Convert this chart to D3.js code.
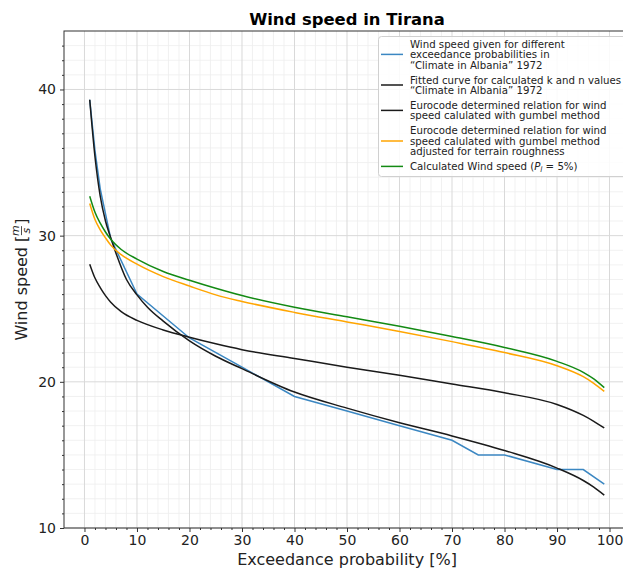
<!DOCTYPE html>
<html>
<head>
<meta charset="utf-8">
<script src="https://cdn.jsdelivr.net/npm/d3@7"></script>
<style>
  body { margin: 0; background: #fff; }
  text { font-family: "DejaVu Sans", sans-serif; }
</style>
</head>
<body>
<svg id="chart" width="623" height="568"></svg>
<script>
// values
var probsGiven = [1, 2, 3, 5, 10, 20, 30, 40, 50, 60, 70, 75, 80, 90, 95, 99];
var windGiven = [39.3, 35.8, 33.2, 29.8, 26, 23, 21, 19, 18, 17, 16, 15, 15, 14, 14, 13];

var probsFit = [1, 2, 3, 4, 5, 6, 8, 10, 12, 15, 20, 25, 30, 40, 50, 60, 70, 80, 90, 95, 97, 99];
var windFit = [39.3, 35.4, 32.7, 31.0, 29.85, 28.8, 27.0, 25.95, 25.1, 24.15, 22.8, 21.75, 20.9, 19.3, 18.2, 17.2, 16.3, 15.3, 14.1, 13.25, 12.8, 12.25];

var probsEc = [1, 2, 3, 4, 5, 7, 10, 15, 20, 25, 30, 40, 50, 60, 70, 80, 90, 95, 97, 99];
var windGumbel = [28.05, 27.1, 26.45, 25.9, 25.45, 24.8, 24.2, 23.55, 23.05, 22.6, 22.2, 21.6, 21.0, 20.45, 19.85, 19.25, 18.45, 17.7, 17.3, 16.85];
var windTerrain = [32.2, 31.1, 30.4, 29.85, 29.35, 28.7, 28.05, 27.2, 26.55, 25.95, 25.5, 24.75, 24.1, 23.45, 22.75, 22.0, 21.1, 20.35, 19.9, 19.35];
var windCalc = [32.7, 31.6, 30.85, 30.25, 29.75, 29.05, 28.4, 27.55, 26.95, 26.4, 25.9, 25.1, 24.45, 23.8, 23.1, 22.35, 21.4, 20.65, 20.2, 19.6];

var xTicks = d3.range(0, 101, 10);
var yTicks = [10, 20, 30, 40];

var svg = d3.select("#chart"),
    pLeft = 64, pTop = 31, pRight = 630, pBottom = 528;

var x = d3.scaleLinear().domain([-3.9, 103.9]).range([pLeft, pRight]);
var y = d3.scaleLinear().domain([10, 44]).range([pBottom, pTop]);

var xMinor = d3.range(0, 101, 2).filter(function(d) { return d % 10 != 0; });
var yMinor = d3.range(11, 44, 1).filter(function(d) { return d % 10 != 0; });

var grid = svg.append("g");
grid.selectAll(".vmin").data(xMinor).enter().append("line")
    .attr("x1", x).attr("x2", x).attr("y1", pTop).attr("y2", pBottom)
    .attr("stroke", "#ededed").attr("stroke-width", 0.8);
grid.selectAll(".hmin").data(yMinor).enter().append("line")
    .attr("y1", y).attr("y2", y).attr("x1", pLeft).attr("x2", pRight)
    .attr("stroke", "#ededed").attr("stroke-width", 0.8);
grid.selectAll(".vmaj").data(xTicks).enter().append("line")
    .attr("x1", x).attr("x2", x).attr("y1", pTop).attr("y2", pBottom)
    .attr("stroke", "#d9d9d9").attr("stroke-width", 1);
grid.selectAll(".hmaj").data(yTicks).enter().append("line")
    .attr("y1", y).attr("y2", y).attr("x1", pLeft).attr("x2", pRight)
    .attr("stroke", "#d9d9d9").attr("stroke-width", 1);

// series
var series = [
  {xs: probsGiven, ys: windGiven, color: "#3b87c2"},
  {xs: probsFit, ys: windFit, color: "#1a1a1a"},
  {xs: probsEc, ys: windGumbel, color: "#1a1a1a"},
  {xs: probsEc, ys: windTerrain, color: "#ffa500"},
  {xs: probsEc, ys: windCalc, color: "#138a13"}
];
var line = d3.line()
    .x(function(d) { return x(d[0]); })
    .y(function(d) { return y(d[1]); });

svg.append("g").selectAll("path").data(series).enter().append("path")
    .attr("fill", "none")
    .attr("stroke", function(d) { return d.color; })
    .attr("stroke-width", 1.5)
    .attr("d", function(d, i) {
      line.curve(i == 0 ? d3.curveLinear : d3.curveMonotoneX);
      return line(d3.zip(d.xs, d.ys));
    });

// axes
svg.append("g").attr("transform", "translate(0," + pBottom + ")")
    .call(d3.axisBottom(x).tickValues(xTicks).tickSize(4).tickPadding(3));
svg.append("g").attr("transform", "translate(0," + pBottom + ")")
    .call(d3.axisBottom(x).tickValues(xMinor).tickSize(2).tickFormat(""));
svg.append("g").attr("transform", "translate(" + pLeft + ",0)")
    .call(d3.axisLeft(y).tickValues(yTicks).tickSize(4).tickPadding(4));
svg.append("g").attr("transform", "translate(" + pLeft + ",0)")
    .call(d3.axisLeft(y).tickValues(yMinor).tickSize(2).tickFormat(""));
svg.selectAll(".domain").remove();
svg.selectAll(".tick line").attr("stroke", "#333");
svg.selectAll(".tick text").attr("font-size", 14).attr("fill", "#222")
    .style("font-family", "DejaVu Sans");

// frame
svg.append("rect").attr("x", pLeft).attr("y", pTop)
    .attr("width", pRight - pLeft).attr("height", pBottom - pTop)
    .attr("fill", "none").attr("stroke", "#333").attr("stroke-width", 1);

// title and labels
svg.append("text").attr("x", (pLeft + pRight) / 2).attr("y", 25)
    .attr("text-anchor", "middle").style("font-size", "16.4px").style("font-weight", "bold")
    .text("Wind speed in Tirana");
svg.append("text").attr("x", (pLeft + pRight) / 2).attr("y", 565)
    .attr("text-anchor", "middle").style("font-size", "16px").attr("fill", "#222")
    .text("Exceedance probability [%]");

var yl = svg.append("g").attr("transform", "translate(27," + ((pTop + pBottom) / 2) + ") rotate(-90)");
var t1 = yl.append("text").style("font-size", "16px").attr("fill", "#222").text("Wind speed [");
var w1 = t1.node().getComputedTextLength();
yl.append("text").attr("x", w1 + 5).attr("y", -8).attr("text-anchor", "middle")
    .style("font-size", "11px").style("font-style", "italic").attr("fill", "#222").text("m");
yl.append("text").attr("x", w1 + 5).attr("y", 3).attr("text-anchor", "middle")
    .style("font-size", "11px").style("font-style", "italic").attr("fill", "#222").text("s");
yl.append("line").attr("x1", w1 + 0.5).attr("x2", w1 + 9.5).attr("y1", -5.5).attr("y2", -5.5)
    .attr("stroke", "#222").attr("stroke-width", 0.8);
var t2 = yl.append("text").attr("x", w1 + 11).style("font-size", "16px").attr("fill", "#222").text("]");
var total = w1 + 11 + t2.node().getComputedTextLength();
yl.selectAll("text, line").attr("transform", "translate(" + (-total / 2) + ",0)");

// legend
var legendItems = [
  {color: "#3b87c2", lines: ["Wind speed given for different", "exceedance probabilities in", "\u201CClimate in Albania\u201D 1972"]},
  {color: "#1a1a1a", lines: ["Fitted curve for calculated k and n values", "\u201CClimate in Albania\u201D 1972"]},
  {color: "#1a1a1a", lines: ["Eurocode determined relation for wind", "speed calulated with gumbel method"]},
  {color: "#ffa500", lines: ["Eurocode determined relation for wind", "speed calulated with gumbel method", "adjusted for terrain roughness"]},
  {color: "#138a13", lines: null}
];
var lg = svg.append("g");
lg.append("rect").attr("x", 378.5).attr("y", 36.5).attr("width", 260).attr("height", 140)
    .attr("rx", 3).attr("fill", "#fff").attr("fill-opacity", 0.85)
    .attr("stroke", "#d0d0d0").attr("stroke-width", 1);
var lineGap = 10.4, yCur = 44;
legendItems.forEach(function(item) {
  var n = item.lines ? item.lines.length : 1;
  var mid = yCur + (n - 1) * lineGap / 2;
  lg.append("line").attr("x1", 381).attr("x2", 403).attr("y1", mid).attr("y2", mid)
      .attr("stroke", item.color).attr("stroke-width", 1.5);
  var tx = lg.append("text").attr("x", 410).attr("y", yCur + 3.7)
      .style("font-size", "10.2px").attr("fill", "#222");
  if (item.lines) {
    item.lines.forEach(function(s, j) {
      tx.append("tspan").attr("x", 410).attr("dy", j ? lineGap : 0).text(s);
    });
  } else {
    tx.append("tspan").text("Calculated Wind speed (");
    tx.append("tspan").style("font-style", "italic").text("P");
    tx.append("tspan").style("font-style", "italic").style("font-size", "7.5px").attr("dy", 2).text("l");
    tx.append("tspan").attr("dy", -2).text(" = 5%)");
  }
  yCur += n * lineGap + 4.6;
});
</script>
</body>
</html>
